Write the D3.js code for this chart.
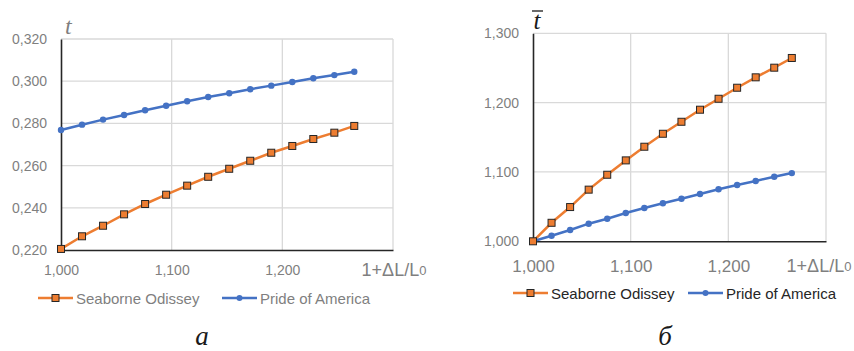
<!DOCTYPE html>
<html lang="ru">
<head>
<meta charset="UTF-8">
<script src="https://d3js.org/d3.v7.min.js"></script>
<title>t vs 1+ΔL/L0</title>
<style>
  body { margin: 0; background: #fff; }
  svg text { font-family: "Liberation Sans", Arial, sans-serif; }
</style>
</head>
<body>
<svg width="854" height="351"></svg>
<script>
// x values shared by both panels
const xVals = [1.000, 1.019, 1.038, 1.057, 1.076, 1.095, 1.114, 1.133, 1.152, 1.171, 1.190, 1.209, 1.228, 1.247, 1.265];

// panel a: t
const seaborneA = [0.2205, 0.2265, 0.2315, 0.2369, 0.2418, 0.2462, 0.2505, 0.2547, 0.2585, 0.2623, 0.2661, 0.2693, 0.2726, 0.2756, 0.2788];
const prideA    = [0.2769, 0.2794, 0.2818, 0.2840, 0.2862, 0.2884, 0.2905, 0.2925, 0.2943, 0.2962, 0.2979, 0.2996, 0.3014, 0.3029, 0.3045];

// panel b: t bar (relative)
const seaborneB = [1.000, 1.0267, 1.0494, 1.0745, 1.0960, 1.1167, 1.1364, 1.1551, 1.1724, 1.1898, 1.2056, 1.2215, 1.2365, 1.2504, 1.2644];
const prideB    = [1.000, 1.0081, 1.0163, 1.0254, 1.0326, 1.0408, 1.0480, 1.0548, 1.0614, 1.0682, 1.0750, 1.0812, 1.0870, 1.0931, 1.0984];

const seriesNames = ["Seaborne Odissey", "Pride of America"];
const xTicks = [1.0, 1.1, 1.2, 1.3];
const yTicksA = [0.22, 0.24, 0.26, 0.28, 0.30, 0.32];
const yTicksB = [1.0, 1.1, 1.2, 1.3];

const orange = "#ed7d31", blue = "#4472c4", gray = "#7f7f7f";
const fmt = d => d3.format(".3f")(d).replace(".", ",");
const svg = d3.select("svg");

function panel(o) {
  const g = svg.append("g");
  const x = d3.scaleLinear().domain([1.0, 1.3]).range([o.left, o.right]);
  const y = d3.scaleLinear().domain(o.yDomain).range([o.bottom, o.top]);

  // grid
  g.append("g").selectAll("line").data(o.yTicks.slice(1)).join("line")
    .attr("x1", o.left).attr("x2", o.right)
    .attr("y1", d => y(d)).attr("y2", d => y(d))
    .attr("stroke", "#d9d9d9").attr("stroke-width", 1.3);
  g.append("g").selectAll("line").data(xTicks.slice(1)).join("line")
    .attr("x1", d => x(d)).attr("x2", d => x(d))
    .attr("y1", o.top).attr("y2", o.bottom)
    .attr("stroke", "#d9d9d9").attr("stroke-width", 1.3);

  // axes
  const yAx = g.append("g").attr("transform", `translate(${o.left},0)`)
    .call(d3.axisLeft(y).tickValues(o.yTicks).tickFormat(fmt).tickSize(0).tickPadding(o.yPad));
  yAx.select(".domain").attr("stroke", "#262626").attr("stroke-width", 1.6);
  yAx.selectAll("text").attr("fill", gray).style("font-size", o.yFont + "px");

  const xAx = g.append("g").attr("transform", `translate(0,${o.bottom})`)
    .call(d3.axisBottom(x).tickValues(xTicks.slice(0, 3)).tickFormat(fmt).tickSize(0).tickPadding(0));
  xAx.select(".domain").attr("stroke", "#262626").attr("stroke-width", 1.6);
  xAx.selectAll("text").attr("fill", gray).style("font-size", o.xFont + "px")
    .attr("dy", null).attr("y", o.xLabY).attr("dominant-baseline", "central");

  // x axis title at the 1.3 position
  const xt = g.append("text").attr("x", o.xTitleX).attr("y", o.bottom + o.xLabY)
    .attr("dominant-baseline", "central")
    .attr("text-anchor", "middle").attr("fill", gray).style("font-size", o.xTitleFont + "px");
  xt.append("tspan").text("1+ΔL/L");
  xt.append("tspan").text("0").style("font-size", (o.xTitleFont * 0.72) + "px");

  // lines + markers
  const line = d3.line().x((d, i) => x(xVals[i])).y(d => y(d));
  g.append("path").attr("d", line(o.sea)).attr("fill", "none").attr("stroke", orange).attr("stroke-width", 2.5);
  g.append("path").attr("d", line(o.pride)).attr("fill", "none").attr("stroke", blue).attr("stroke-width", 2.5);

  g.append("g").selectAll("circle").data(o.pride).join("circle")
    .attr("cx", (d, i) => x(xVals[i])).attr("cy", d => y(d)).attr("r", 3.2).attr("fill", blue);
  g.append("g").selectAll("rect").data(o.sea).join("rect")
    .attr("x", (d, i) => x(xVals[i]) - 3.5).attr("y", d => y(d) - 3.5)
    .attr("width", 7).attr("height", 7)
    .attr("fill", orange).attr("stroke", "#262626").attr("stroke-width", 1);

  // legend
  const lg = g.append("g").attr("transform", `translate(${o.legX},${o.legY})`);
  const items = [{ n: seriesNames[0], c: orange, m: "sq", dx: 0 }, { n: seriesNames[1], c: blue, m: "ci", dx: o.legGap }];
  items.forEach(it => {
    const ig = lg.append("g").attr("transform", `translate(${it.dx},0)`);
    ig.append("line").attr("x1", 0).attr("x2", 35).attr("y1", 0).attr("y2", 0)
      .attr("stroke", it.c).attr("stroke-width", 2.5);
    if (it.m === "sq") {
      ig.append("rect").attr("x", 14).attr("y", -3.5).attr("width", 7).attr("height", 7)
        .attr("fill", it.c).attr("stroke", "#262626").attr("stroke-width", 1);
    } else {
      ig.append("circle").attr("cx", 17.5).attr("cy", 0).attr("r", 3).attr("fill", it.c);
    }
    ig.append("text").attr("x", 38).attr("y", 0).attr("dominant-baseline", "central")
      .attr("fill", o.legColor).style("font-size", o.legFont + "px").text(it.n);
  });

  // y axis title
  o.yTitle(g);

  // caption
  g.append("text").attr("x", o.capX).attr("y", 345).attr("text-anchor", "middle")
    .style("font-family", "'Liberation Serif', serif").style("font-style", "italic")
    .style("font-size", "27px").attr("fill", "#1a1a1a").text(o.caption);
}

panel({
  left: 61, right: 393, top: 39, bottom: 250,
  yDomain: [0.22, 0.32], yTicks: yTicksA,
  sea: seaborneA, pride: prideA,
  yPad: 14, yFont: 14, xLabY: 20, xFont: 14, xTitleFont: 18, xTitleX: 394,
  legX: 38, legY: 298, legGap: 184, legFont: 15, legColor: gray,
  caption: "а", capX: 202,
  yTitle: g => g.append("text").attr("x", 65).attr("y", 34)
    .style("font-family", "'Liberation Serif', serif").style("font-style", "italic")
    .style("font-size", "24px").attr("fill", gray).text("t")
});

panel({
  left: 533, right: 826, top: 33.3, bottom: 241.3,
  yDomain: [1.0, 1.3], yTicks: yTicksB,
  sea: seaborneB, pride: prideB,
  yPad: 14, yFont: 14, xLabY: 25, xFont: 17, xTitleFont: 18, xTitleX: 819,
  legX: 513, legY: 293, legGap: 175, legFont: 15, legColor: "#262626",
  caption: "б", capX: 665,
  yTitle: g => {
    g.append("text").attr("x", 537).attr("y", 29).attr("text-anchor", "middle")
      .style("font-family", "'Liberation Serif', serif").style("font-style", "italic")
      .style("font-size", "25px").attr("fill", "#1a1a1a").text("t");
    g.append("line").attr("x1", 532).attr("x2", 543).attr("y1", 11).attr("y2", 11)
      .attr("stroke", "#1a1a1a").attr("stroke-width", 1.3);
  }
});
</script>
</body>
</html>
